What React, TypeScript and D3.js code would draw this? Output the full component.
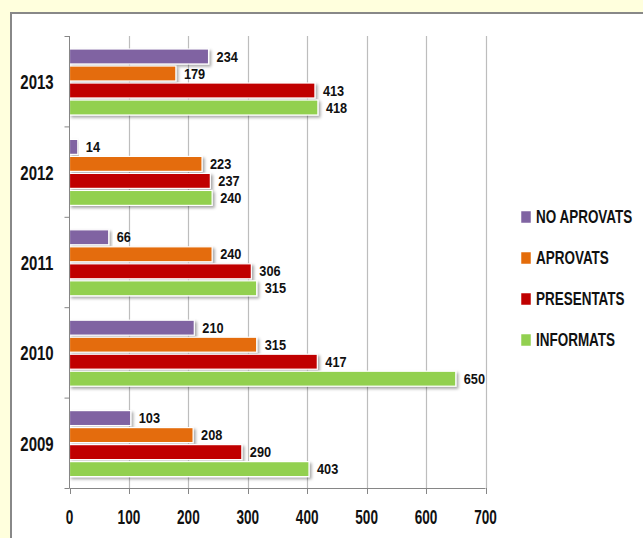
import React, { useRef, useEffect } from 'react';
import * as d3 from 'd3';

const years = ['2009', '2010', '2011', '2012', '2013'];
const seriesNames = ['NO APROVATS', 'APROVATS', 'PRESENTATS', 'INFORMATS'];
const noAprovats = [103, 210, 66, 14, 234];
const aprovats = [208, 315, 240, 223, 179];
const presentats = [290, 417, 306, 237, 413];
const informats = [403, 650, 315, 240, 418];
const xTicks = [0, 100, 200, 300, 400, 500, 600, 700];

const colors = ['#8064A2', '#E46C0A', '#C00000', '#92D050'];
const FONT = "'Liberation Sans', Arial, sans-serif";

// narrow, tall text (the original used a condensed face)
const label = (parent: any, x: number, y: number, txt: string, size: number, sx: number, anchor = 'start') => {
  parent.append('text')
    .attr('transform', `translate(${x},${y}) scale(${sx},1)`)
    .attr('dy', '0.35em')
    .attr('text-anchor', anchor)
    .attr('font-family', FONT).attr('font-weight', 'bold').attr('font-size', size)
    .attr('fill', '#111')
    .text(txt);
};

const App = () => {
  const ref = useRef<SVGSVGElement>(null);

  useEffect(() => {
    const W = 643;
    const H = 538;
    const svg = d3.select(ref.current).attr('width', W).attr('height', H);
    svg.selectAll('*').remove();

    const values = [noAprovats, aprovats, presentats, informats];

    const defs = svg.append('defs');
    const f = defs.append('filter').attr('id', 'sh').attr('x', '-5%').attr('y', '-30%').attr('width', '115%').attr('height', '190%');
    f.append('feDropShadow').attr('dx', 2).attr('dy', 2).attr('stdDeviation', 1.5).attr('flood-color', '#000').attr('flood-opacity', 0.35);

    // background + panel
    svg.append('rect').attr('width', W).attr('height', H).attr('fill', '#FFFFDD');
    svg.append('rect').attr('x', 11).attr('y', 13).attr('width', 700).attr('height', 600)
      .attr('fill', '#fff').attr('stroke', '#888').attr('stroke-width', 2);

    const left = 69.5;
    const right = 485.5;
    const top = 36;
    const bottom = 488;

    const x = d3.scaleLinear().domain([0, 700]).range([left, right]);
    const y = d3.scaleBand().domain(years.slice().reverse()).range([top, bottom]);
    const inner = d3.scaleBand().domain(seriesNames).range([13, 79]).paddingInner(0.12);

    // gridlines
    svg.append('g').selectAll('line').data(xTicks.slice(1)).enter().append('line')
      .attr('x1', (d) => Math.round(x(d)) + 0.5).attr('x2', (d) => Math.round(x(d)) + 0.5)
      .attr('y1', top).attr('y2', bottom)
      .attr('stroke', '#BDBDBD').attr('stroke-width', 1.2);

    // bars
    const g = svg.append('g');
    years.forEach((yr, i) => {
      seriesNames.forEach((s, j) => {
        const v = values[j][i];
        const by = (y(yr) as number) + (inner(s) as number);
        const bh = inner.bandwidth();
        g.append('rect')
          .attr('x', x(0)).attr('y', by).attr('width', x(v) - x(0)).attr('height', bh)
          .attr('fill', colors[j]).attr('stroke', '#fff').attr('stroke-width', 1.2)
          .attr('filter', 'url(#sh)');
        label(g, x(v) + 8, by + bh / 2, String(v), 14.5, 0.88);
      });
    });

    // y axis
    const yAxis = svg.append('g');
    yAxis.append('line').attr('x1', left).attr('x2', left).attr('y1', top).attr('y2', bottom).attr('stroke', '#868686');
    const yTickPos = years.map((yr) => y(yr) as number).concat([bottom]);
    yAxis.selectAll('line.t').data(yTickPos).enter().append('line').attr('class', 't')
      .attr('x1', left - 5).attr('x2', left).attr('y1', (d) => d + 0.5).attr('y2', (d) => d + 0.5)
      .attr('stroke', '#868686');
    years.forEach((yr) => {
      label(yAxis, 37, (y(yr) as number) + y.bandwidth() / 2 + 1, yr, 20, 0.75, 'middle');
    });

    // x axis
    const xAxis = svg.append('g');
    xAxis.append('line').attr('x1', left).attr('x2', right).attr('y1', bottom + 0.5).attr('y2', bottom + 0.5).attr('stroke', '#868686');
    xAxis.selectAll('line.t').data(xTicks).enter().append('line').attr('class', 't')
      .attr('x1', (d) => Math.round(x(d)) + 0.5).attr('x2', (d) => Math.round(x(d)) + 0.5)
      .attr('y1', bottom).attr('y2', bottom + 6).attr('stroke', '#868686');
    xTicks.forEach((t) => {
      label(xAxis, x(t), 517, String(t), 20, 0.68, 'middle');
    });

    // legend
    const leg = svg.append('g');
    seriesNames.forEach((s, j) => {
      const ly = 217 + j * 41;
      leg.append('rect').attr('x', 521).attr('y', ly - 6).attr('width', 10).attr('height', 12)
        .attr('fill', colors[j]).attr('stroke', '#fff').attr('stroke-width', 0.5);
      label(leg, 536, ly, s, 17.5, 0.77);
    });
  }, []);

  return <svg ref={ref} style={{ position: 'absolute', left: 0, top: 0 }}></svg>;
};

export default App;
